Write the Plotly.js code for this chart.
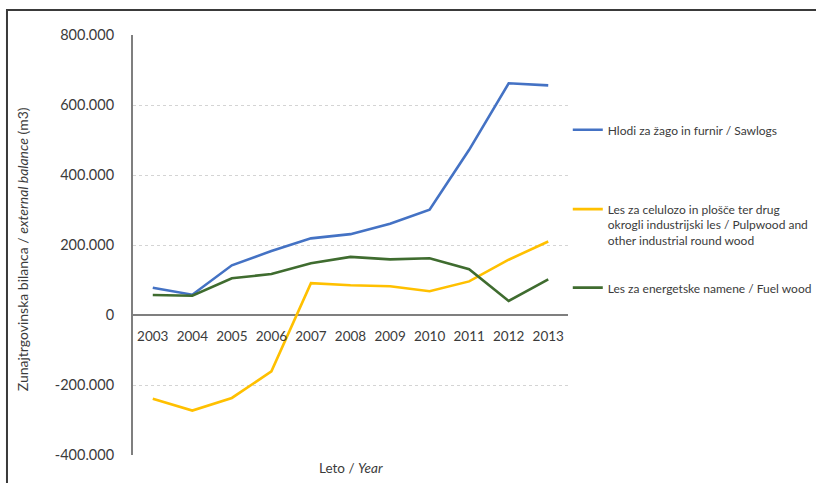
<!DOCTYPE html>
<html>
<head>
<meta charset="utf-8">
<script src="https://cdn.plot.ly/plotly-3.0.1.min.js"></script>
<style>
  html, body { margin: 0; padding: 0; background: #fff; }
  #chart { width: 816px; height: 483px; }
</style>
</head>
<body>
<div id="chart"></div>
<script>
// ---- data ----
const years = ['2003','2004','2005','2006','2007','2008','2009','2010','2011','2012','2013'];
const sawlogs  = [78000, 58000, 142000, 183000, 219000, 231000, 261000, 301000, 472000, 662000, 656000];
const pulpwood = [-239000, -273000, -237000, -161000, 91000, 85000, 82000, 68000, 96000, 158000, 210000];
const fuelwood = [57000, 55000, 105000, 117000, 148000, 166000, 159000, 162000, 131000, 40000, 102000];

const seriesNames = [
  'Hlodi za žago in furnir / Sawlogs',
  'Les za celulozo in plošče ter drug<br>okrogli industrijski les / Pulpwood and<br>other industrial round wood',
  'Les za energetske namene / Fuel wood'
];
const yTickVals = [-400000, -200000, 0, 200000, 400000, 600000, 800000];
const yTickText = ['-400.000', '-200.000', '0', '200.000', '400.000', '600.000', '800.000'];

const FONT = 'Lato, "Open Sans", "Liberation Sans", sans-serif';
const TXT = '#3b3b3b';

const traces = [
  { x: years, y: sawlogs,  name: seriesNames[0], type: 'scatter', mode: 'lines',
    line: { color: '#4472C4', width: 2.6 }, legend: 'legend' },
  { x: years, y: pulpwood, name: seriesNames[1], type: 'scatter', mode: 'lines',
    line: { color: '#FFC000', width: 2.6 }, legend: 'legend2' },
  { x: years, y: fuelwood, name: seriesNames[2], type: 'scatter', mode: 'lines',
    line: { color: '#3F6C2F', width: 2.6 }, legend: 'legend3' }
];

const legendBase = {
  xanchor: 'left', yanchor: 'middle', valign: 'top',
  bgcolor: 'rgba(0,0,0,0)', borderwidth: 0,
  font: { family: FONT, size: 12, color: TXT }
};

const layout = {
  width: 816, height: 483,
  margin: { l: 133, r: 248, t: 35, b: 28, autoexpand: false },
  paper_bgcolor: '#ffffff', plot_bgcolor: '#ffffff',
  font: { family: FONT, color: TXT },
  separators: ',.',
  xaxis: {
    type: 'category',
    range: [-0.5, 10.5],
    anchor: 'free', position: 1/3,
    showgrid: false, zeroline: false, showline: false,
    ticks: 'outside', ticklen: 9, tickcolor: 'rgba(0,0,0,0)',
    tickfont: { family: FONT, size: 13.5, color: TXT },
    fixedrange: true
  },
  yaxis: {
    range: [-400000, 800000],
    tickvals: yTickVals, ticktext: yTickText,
    showgrid: true, gridcolor: '#d4d4d4', griddash: 'dot', gridwidth: 1,
    zeroline: true, zerolinecolor: '#7f7f7f', zerolinewidth: 2,
    showline: true, linecolor: '#7f7f7f', linewidth: 2,
    ticks: 'outside', ticklen: 14, tickcolor: 'rgba(0,0,0,0)',
    tickfont: { family: FONT, size: 14.5, color: TXT },
    fixedrange: true
  },
  showlegend: true,
  legend:  Object.assign({}, legendBase, { x: 0.9995, y: 0.774 }),
  legend2: Object.assign({}, legendBase, { x: 0.9995, y: 0.548 }),
  legend3: Object.assign({}, legendBase, { x: 0.9995, y: 0.398 }),
  annotations: [
    { text: 'Zunajtrgovinska bilanca / <i>external balance</i> (m3)',
      xref: 'paper', yref: 'paper', x: 0, y: 0.49, xanchor: 'center', yanchor: 'middle',
      xshift: -111, textangle: -90, showarrow: false,
      font: { family: FONT, size: 14, color: TXT } },
    { text: 'Leto / <i>Year</i>',
      xref: 'paper', yref: 'paper', x: 0.5, y: 0, xanchor: 'center', yanchor: 'top',
      yshift: -3, showarrow: false,
      font: { family: FONT, size: 13.5, color: TXT } }
  ],
  shapes: [
    { type: 'rect', xref: 'paper', yref: 'paper',
      x0: -0.2897, x1: 1.8, y0: -0.3, y1: 1.0595,
      line: { color: '#3a3a3a', width: 2 }, fillcolor: 'rgba(0,0,0,0)', layer: 'below' }
  ]
};

Plotly.newPlot('chart', traces, layout, { displayModeBar: false, staticPlot: true });
</script>
</body>
</html>
